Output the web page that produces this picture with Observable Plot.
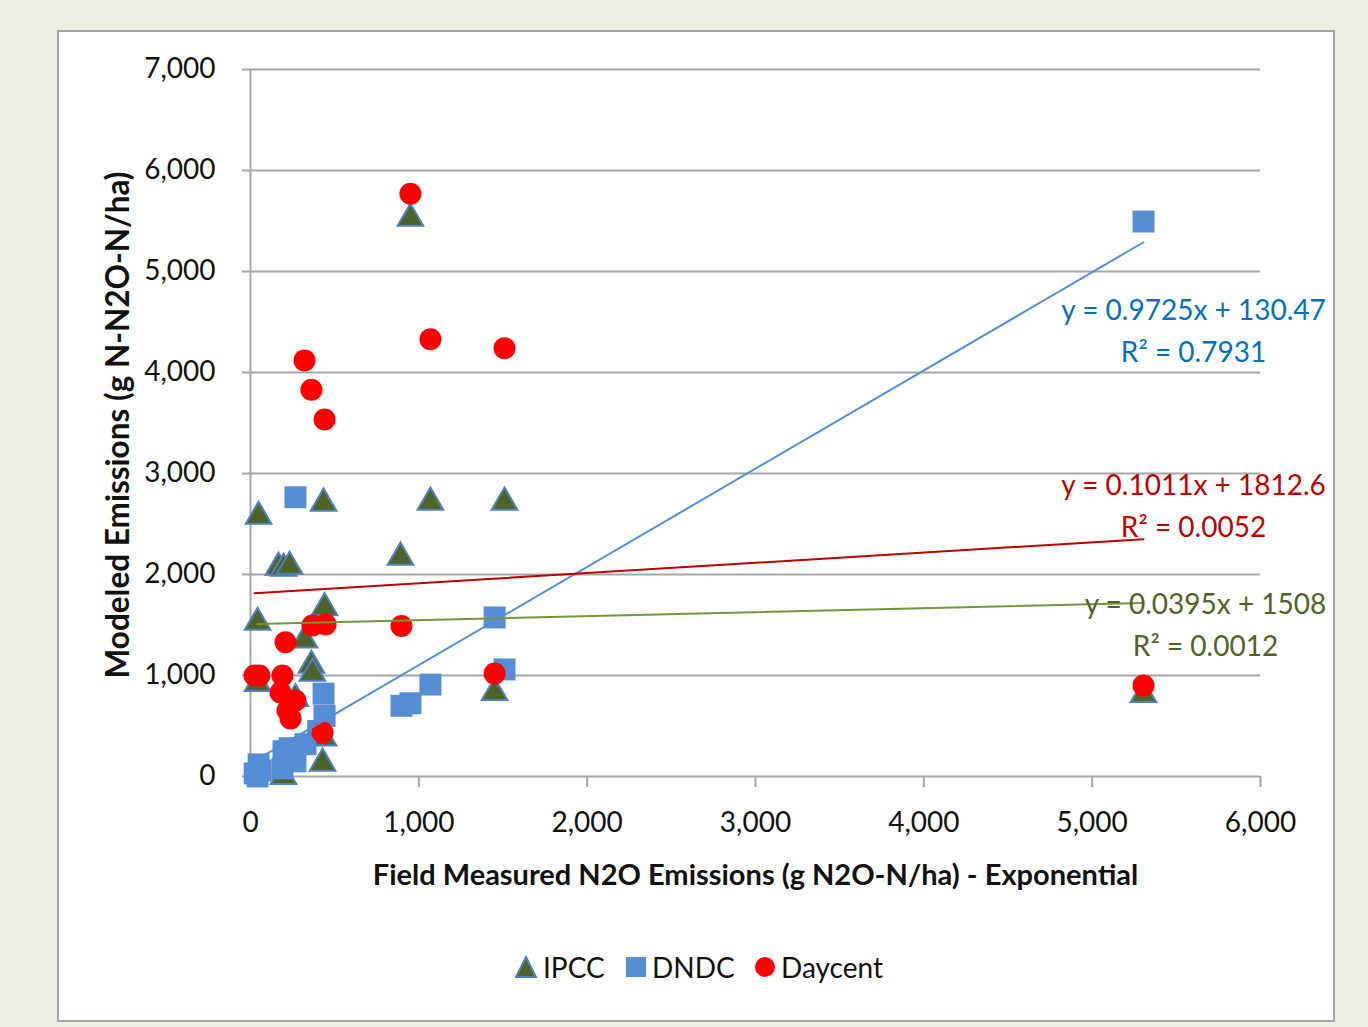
<!DOCTYPE html>
<html>
<head>
<meta charset="utf-8">
<script src="https://cdn.jsdelivr.net/npm/d3@7"></script>
<script src="https://cdn.jsdelivr.net/npm/@observablehq/plot@0.6"></script>
<style>
  html, body { margin: 0; padding: 0; }
  body { width: 1368px; height: 1027px; background: #ebeee0; position: relative; overflow: hidden; font-family: Lato, "Open Sans", sans-serif; }
  #panel { position: absolute; left: 57px; top: 30px; width: 1278px; height: 992px; background: #ffffff; border: 2px solid #a3a3a3; box-sizing: border-box; }
  #chart { position: absolute; left: 0; top: 0; }
  #legend { position: absolute; top: 945px; left: 0; width: 1368px; height: 44px; font-size: 28px; color: #111; }
  .item { position: absolute; top: 0; display: flex; align-items: center; height: 44px; }
  .item svg { margin-right: 5px; }
</style>
</head>
<body>
<div id="panel"></div>
<div id="chart"></div>
<div id="legend"></div>
<script>
// ---- data ----
const seriesNames = ["IPCC", "DNDC", "Daycent"];
const xTicks = [0, 1000, 2000, 3000, 4000, 5000, 6000];
const yTicks = [0, 1000, 2000, 3000, 4000, 5000, 6000, 7000];
const xTitle = "Field Measured N2O Emissions (g N2O-N/ha) - Exponential";
const yTitle = "Modeled Emissions (g N-N2O-N/ha)";

const ipccPoints = [
  [950, 5525], [48, 2575], [434, 2705], [1069, 2715], [1509, 2715], [891, 2170],
  [166, 2070], [196, 2060], [232, 2080], [42, 1525], [440, 1670], [321, 1350],
  [362, 1100], [368, 1020], [42, 920], [267, 770], [434, 380], [428, 130],
  [196, 0], [1450, 830], [5305, 810]
];
const dndcPoints = [
  [5305, 5495], [267, 2765], [1450, 1575], [1509, 1060], [1069, 910], [950, 725],
  [897, 700], [434, 820], [440, 600], [402, 450], [327, 320], [232, 280],
  [196, 250], [267, 150], [190, 80], [48, 120], [60, 60], [25, 30], [42, 0]
];
const daycentPoints = [
  [950, 5770], [1069, 4330], [1509, 4240], [321, 4120], [362, 3830], [440, 3535],
  [897, 1490], [1450, 1020], [5305, 900], [208, 1330], [368, 1495], [446, 1505],
  [24, 1000], [53, 1000], [190, 1000], [178, 832], [267, 752], [220, 653],
  [238, 574], [428, 436]
];
const trendSlopes = [0.0395, 0.9725, 0.1011];
const trendIntercepts = [1508, 130.47, 1812.6];
const trendR2 = ["0.0012", "0.7931", "0.0052"];

// ---- derived ----
const allPoints = [ipccPoints, dndcPoints, daycentPoints];
const trendLines = allPoints.map((pts, i) => {
  const [x0, x1] = d3.extent(pts, p => p[0]);
  return [x0, x1].map(x => ({x, y: trendSlopes[i] * x + trendIntercepts[i]}));
});
const trendLabels = allPoints.map((pts, i) => {
  const x = d3.max(pts, p => p[0]);
  return {x, y: trendSlopes[i] * x + trendIntercepts[i],
    text: `y = ${trendSlopes[i]}x + ${trendIntercepts[i]}\nR² = ${trendR2[i]}`};
});

const grid = "#a6a6a6";
const font = "Lato, 'Open Sans', sans-serif";
const labelColors = ["#4f6228", "#0070c0", "#c00000"];
const lineColors = ["#77933c", "#558ed5", "#c00000"];
const labelOffsets = [[62, 19], [50, 85], [50, -37]];

const labelMark = (i, halo) => Plot.text([trendLabels[i]], {
  x: "x", y: "y", text: "text",
  dx: labelOffsets[i][0], dy: labelOffsets[i][1],
  textAnchor: "middle", lineAnchor: "middle", lineHeight: 1.5,
  fontSize: 28, fill: halo ? "white" : labelColors[i],
  stroke: halo ? "white" : null, strokeWidth: halo ? 14 : 0
});

const chart = Plot.plot({
  width: 1368, height: 1027,
  marginLeft: 250, marginRight: 108, marginTop: 69, marginBottom: 251,
  style: {background: "transparent", fontFamily: font, fontSize: "28px", color: "#111"},
  x: {domain: [0, 6000]},
  y: {domain: [0, 7000]},
  marks: [
    Plot.gridY(yTicks, {stroke: grid, strokeOpacity: 1, strokeWidth: 2}),
    Plot.ruleX([0], {stroke: grid, strokeWidth: 2}),
    Plot.axisY({ticks: yTicks, tickSize: 8, tickPadding: 27, tickFormat: d3.format(","), label: null, stroke: grid, strokeWidth: 2, fontSize: 28}),
    Plot.axisX({ticks: xTicks, tickSize: 11, tickPadding: 25, tickFormat: d3.format(","), label: null, stroke: grid, strokeWidth: 2, fontSize: 28}),
    Plot.text([yTitle], {frameAnchor: "left", textAnchor: "middle", rotate: -90, dx: -132, dy: 2, fontWeight: "bold", fontSize: 31.5, fill: "#111"}),
    Plot.text([xTitle], {frameAnchor: "bottom", dy: 108, fontWeight: "bold", fontSize: 29, fill: "#111"}),
    labelMark(1, true),
    Plot.dot(ipccPoints, {x: d => d[0], y: d => d[1], symbol: "triangle", r: 9.5, fill: "#4f6228", stroke: "#4f81bd", strokeWidth: 2, fillOpacity: 1}),
    Plot.dot(dndcPoints, {x: d => d[0], y: d => d[1], symbol: "square", r: 12.4, fill: "#558ed5", stroke: "none"}),
    Plot.dot(daycentPoints, {x: d => d[0], y: d => d[1], symbol: "circle", r: 11, fill: "#ff0000", stroke: "none"}),
    Plot.line(trendLines[1], {x: "x", y: "y", stroke: lineColors[1], strokeWidth: 2}),
    Plot.line(trendLines[2], {x: "x", y: "y", stroke: lineColors[2], strokeWidth: 2}),
    Plot.line(trendLines[0], {x: "x", y: "y", stroke: lineColors[0], strokeWidth: 2}),
    labelMark(0, false), labelMark(1, false), labelMark(2, false)
  ]
});
document.getElementById("chart").appendChild(chart);

// ---- legend ----
const legendSymbols = [
  `<svg width="24" height="24" viewBox="0 0 24 24"><polygon points="12,2 22,22 2,22" fill="#4f6228" stroke="#4f81bd" stroke-width="2"/></svg>`,
  `<svg width="22" height="22" viewBox="0 0 22 22"><rect x="1" y="1" width="20" height="20" fill="#558ed5"/></svg>`,
  `<svg width="22" height="22" viewBox="0 0 22 22"><circle cx="11" cy="11" r="10" fill="#ff0000"/></svg>`
];
const legendLeft = [514, 625, 754];
const legend = document.getElementById("legend");
seriesNames.forEach((name, i) => {
  const el = document.createElement("div");
  el.className = "item";
  el.style.left = legendLeft[i] + "px";
  el.innerHTML = legendSymbols[i] + `<span>${name}</span>`;
  legend.appendChild(el);
});
</script>
</body>
</html>
